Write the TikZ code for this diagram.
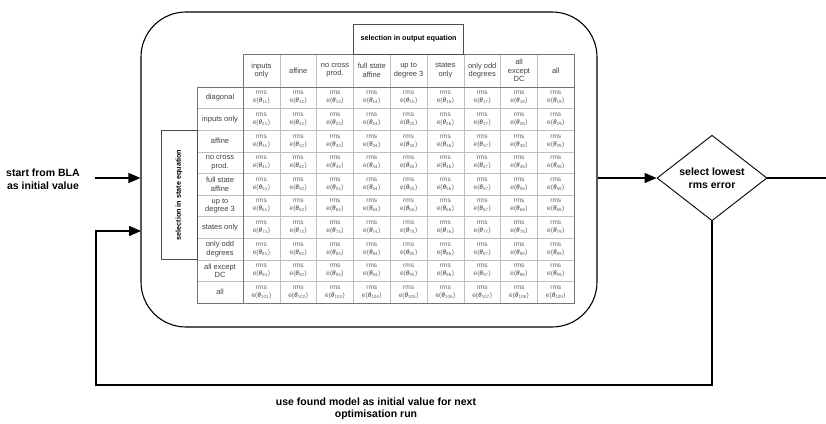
\documentclass[tikz,border=0pt]{standalone}
\usepackage{fontspec}
\setmainfont{Liberation Sans}
\usetikzlibrary{shapes.geometric,arrows.meta,calc}
\begin{document}
\begin{tikzpicture}[x=1pt,y=-1pt,
  arr/.style={line width=1.4pt,-{Triangle[length=12pt,width=10pt]}},
  conn/.style={line width=1.4pt},
  bigtxt/.style={font=\fontsize{10.5}{12.5}\selectfont\bfseries, align=center},
  cell/.style={font=\fontsize{6.5}{8}\selectfont, text=black!62, align=center, inner sep=0},
  hdr/.style={font=\fontsize{7.5}{8.5}\selectfont, text=black!75, align=center, inner sep=0},
  selbox/.style={draw=black!70, line width=0.8pt, font=\fontsize{7.2}{8.5}\selectfont\bfseries, inner sep=0},
  gridin/.style={draw=black!25, line width=0.6pt},
  gridout/.style={draw=black!55, line width=0.8pt},
]
\useasboundingbox (0,0) rectangle (826,423);

% big rounded box
\node[draw, line width=1.1pt, rounded corners=45pt, minimum width=456pt, minimum height=315pt, inner sep=0] (loopbox) at (369,169.5) {};

% table grid
\foreach \i in {1,...,8} \draw[gridin] ({243+\i*36.8},54) -- ({243+\i*36.8},303);
\foreach \j in {1,...,9} \draw[gridin] (197,{87+\j*21.6}) -- (574,{87+\j*21.6});
\draw[gridout] (243,54) rectangle (574,303);
\draw[gridout] (197,87) rectangle (574,303);

% selection boxes
\node[selbox, minimum width=110.4pt, minimum height=30pt] (outsel) at (408.6,39) {selection in output equation};
\node[selbox, rotate=90, minimum width=129.6pt, minimum height=36pt] (statesel) at (179,195) {selection in state equation};

% column headers
\foreach \t [count=\c] in {inputs\\only, affine, no cross\\prod., full state\\affine, up to\\degree 3, states\\only, only odd\\degrees, all\\except\\DC, all}
  \node[hdr] (h-\c) at ({243+(\c-0.5)*36.8},70.5) {\t};

% row labels
\foreach \t [count=\r] in {diagonal, inputs only, affine, no cross\\prod., full state\\affine, up to\\degree 3, states only, only odd\\degrees, all except\\DC, all}
  \node[hdr] (r-\r) at (220,{87+(\r-0.5)*21.6}) {\t};

% cells
\foreach \r in {1,...,10}
  \foreach \c in {1,...,9}
    \node[cell] (c-\r-\c) at ({243+(\c-0.5)*36.8},{87+(\r-0.5)*21.6}) {rms\\e({\bfseries\itshape θ}\textsubscript{\r\c})};

% flow
\node[draw, diamond, line width=0.9pt, minimum width=110pt, minimum height=62pt, inner sep=0, bigtxt] (dia) at (712,178) {select lowest\\rms error};
\node[bigtxt] (starttxt) at (43,179) {start from BLA\\as initial value};
\node[bigtxt] (looptxt) at (376,409) {use found model as initial value for next\\optimisation run};

\coordinate (startpt) at (95,178);
\coordinate (loopcorner) at (96,385);
\coordinate (loopin) at (141,231);
\coordinate (exitpt) at (826,178);

\draw[arr] (startpt) -- (startpt -| loopbox.west);
\draw[arr] (loopbox.east |- dia.west) -- (dia.west);
\draw[conn] (dia.east) -- (exitpt);
\draw[arr] (dia.south) |- (loopcorner) |- (loopin);
\end{tikzpicture}
\end{document}
